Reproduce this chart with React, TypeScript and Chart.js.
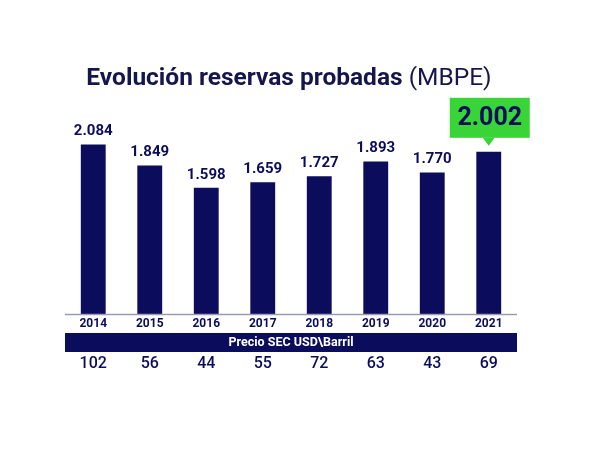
import { useEffect, useRef } from "react";
import { Chart, registerables } from "chart.js";
Chart.register(...registerables);

const years = ["2014", "2015", "2016", "2017", "2018", "2019", "2020", "2021"];
const reserves = [2084, 1849, 1598, 1659, 1727, 1893, 1770, 2002];
const reserveLabels = ["2.084", "1.849", "1.598", "1.659", "1.727", "1.893", "1.770", "2.002"];
const prices = [102, 56, 44, 55, 72, 63, 43, 69];
const titleBold = "Evolución reservas probadas";
const titleUnit = "(MBPE)";
const bandLabel = "Precio SEC USD\\Barril";

const NAVY = "#0c0c5c";
const TITLE = "#16164f";
const GREEN = "#38d438";
const FONT = "Roboto, 'Noto Sans', sans-serif";

const overlay = {
  id: "overlay",
  afterDatasetsDraw(chart: any) {
    const ctx = chart.ctx as CanvasRenderingContext2D;
    const area = chart.chartArea;
    const meta = chart.getDatasetMeta(0);
    const x = chart.scales.x;
    ctx.save();

    // axis line
    ctx.strokeStyle = "#9a9ab8";
    ctx.lineWidth = 1.5;
    ctx.beginPath();
    ctx.moveTo(area.left, area.bottom + 0.5);
    ctx.lineTo(area.right, area.bottom + 0.5);
    ctx.stroke();

    // value labels
    ctx.textAlign = "center";
    ctx.textBaseline = "middle";
    meta.data.forEach((bar: any, i: number) => {
      const last = i === reserves.length - 1;
      if (!last) {
        ctx.fillStyle = NAVY;
        ctx.font = `bold 15px ${FONT}`;
        ctx.fillText(reserveLabels[i], bar.x, bar.y - 13);
      } else {
        const w = 80, h = 40;
        const bottom = bar.y - 14;
        const top = bottom - h;
        const cx = bar.x + 1;
        ctx.fillStyle = GREEN;
        ctx.fillRect(cx - w / 2, top, w, h);
        ctx.beginPath();
        ctx.moveTo(bar.x - 6, bottom);
        ctx.lineTo(bar.x + 6, bottom);
        ctx.lineTo(bar.x, bottom + 8);
        ctx.closePath();
        ctx.fill();
        ctx.fillStyle = NAVY;
        ctx.font = `bold 25px ${FONT}`;
        ctx.fillText(reserveLabels[i], cx, top + h / 2 + 1);
      }
    });

    // year labels
    ctx.fillStyle = NAVY;
    ctx.font = `bold 12px ${FONT}`;
    years.forEach((y, i) => {
      ctx.fillText(y, x.getPixelForValue(i), area.bottom + 10);
    });

    // band
    const bandTop = area.bottom + 19;
    const bandH = 19;
    ctx.fillStyle = NAVY;
    ctx.fillRect(area.left, bandTop, area.right - area.left, bandH);
    ctx.fillStyle = "#ffffff";
    ctx.font = `bold 12.5px ${FONT}`;
    ctx.fillText(bandLabel, (area.left + area.right) / 2, bandTop + bandH / 2 + 0.5);

    // prices
    ctx.fillStyle = NAVY;
    ctx.font = `500 16px ${FONT}`;
    prices.forEach((p, i) => {
      ctx.fillText(String(p), x.getPixelForValue(i), area.bottom + 50);
    });

    // title
    ctx.textAlign = "left";
    ctx.textBaseline = "alphabetic";
    ctx.font = `bold 24.5px ${FONT}`;
    const bw = ctx.measureText(titleBold + " ").width;
    ctx.font = `24.5px ${FONT}`;
    const uw = ctx.measureText(titleUnit).width;
    const startX = 289 - (bw + uw) / 2;
    ctx.fillStyle = TITLE;
    ctx.font = `bold 24.5px ${FONT}`;
    ctx.fillText(titleBold + " ", startX, 85);
    ctx.font = `24.5px ${FONT}`;
    ctx.fillText(titleUnit, startX + bw, 85);

    ctx.restore();
  },
};

const whiteBg = {
  id: "whiteBg",
  beforeDraw(chart: any) {
    const ctx = chart.ctx;
    ctx.save();
    ctx.fillStyle = "#ffffff";
    ctx.fillRect(0, 0, chart.width, chart.height);
    ctx.restore();
  },
};

export default function App() {
  const ref = useRef<HTMLCanvasElement>(null);
  useEffect(() => {
    if (!ref.current) return;
    const chart = new Chart(ref.current, {
      type: "bar",
      data: {
        labels: years,
        datasets: [
          {
            data: reserves,
            backgroundColor: NAVY,
            barPercentage: 0.44,
            categoryPercentage: 1,
          },
        ],
      },
      options: {
        animation: false,
        responsive: false,
        maintainAspectRatio: false,
        layout: { padding: { left: 65, right: 83, top: 95, bottom: 136 } },
        plugins: { legend: { display: false }, tooltip: { enabled: false }, title: { display: false } },
        scales: {
          x: { display: false },
          y: { display: false, min: 180, max: 2640 },
        },
      },
      plugins: [whiteBg, overlay],
    });
    return () => chart.destroy();
  }, []);
  return (
    <div style={{ position: "absolute", left: 0, top: 0, width: 600, height: 450, background: "#fff" }}>
      <canvas ref={ref} width={600} height={450} style={{ width: 600, height: 450 }} />
    </div>
  );
}
